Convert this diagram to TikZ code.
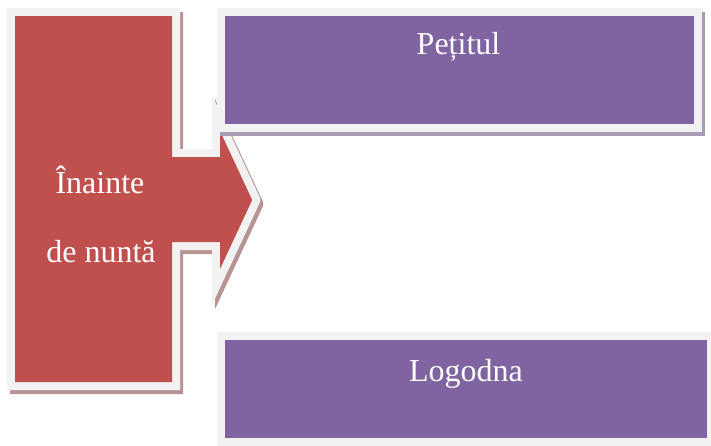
\documentclass[tikz,border=0pt]{standalone}
\usepackage{fontspec}
\setmainfont{Liberation Serif}
\definecolor{redc}{HTML}{C0504D}
\definecolor{purc}{HTML}{8064A2}
\definecolor{grayb}{HTML}{F2F2F2}
\definecolor{redsh}{HTML}{B79393}
\definecolor{pursh}{HTML}{A89DB8}
\begin{document}
\begin{tikzpicture}[x=1pt,y=-1pt,
  shapebase/.style={line join=miter, miter limit=10,
    preaction={fill=#1, draw=#1, line width=16pt, line join=miter, miter limit=10,
      transform canvas={shift={(3pt,-4pt)}}},
    preaction={draw=grayb, line width=16pt, line join=miter, miter limit=10}},
  purplebox/.style={rectangle, inner sep=0pt, fill=purc, shapebase=pursh},
  lbl/.style={text=white, anchor=base, inner sep=0pt, font=\fontsize{32}{38}\selectfont}]
\useasboundingbox (0,0) rectangle (711,445);
% red arrow shape
\path[fill=redc, shapebase=redsh]
  (15,16) -- (172,16) -- (172,157) -- (220,157) -- (220,131) -- (252,199.6) -- (252,200.4)
  -- (220,269) -- (220,242) -- (172,242) -- (172,382) -- (15,382) -- cycle;
% purple boxes
\node[purplebox, minimum width=469pt, minimum height=108pt] (top) at (459.5,70) {};
\node[purplebox, minimum width=482pt, minimum height=98pt] (bot) at (466,389) {};
% texts
\node[lbl] (t1) at (458.5,54) {Pețitul};
\node[lbl] (t2) at (466,381) {Logodna};
\node[lbl] (t3) at (100,193) {Înainte};
\node[lbl] (t4) at (101,262) {de nuntă};
\end{tikzpicture}
\end{document}
